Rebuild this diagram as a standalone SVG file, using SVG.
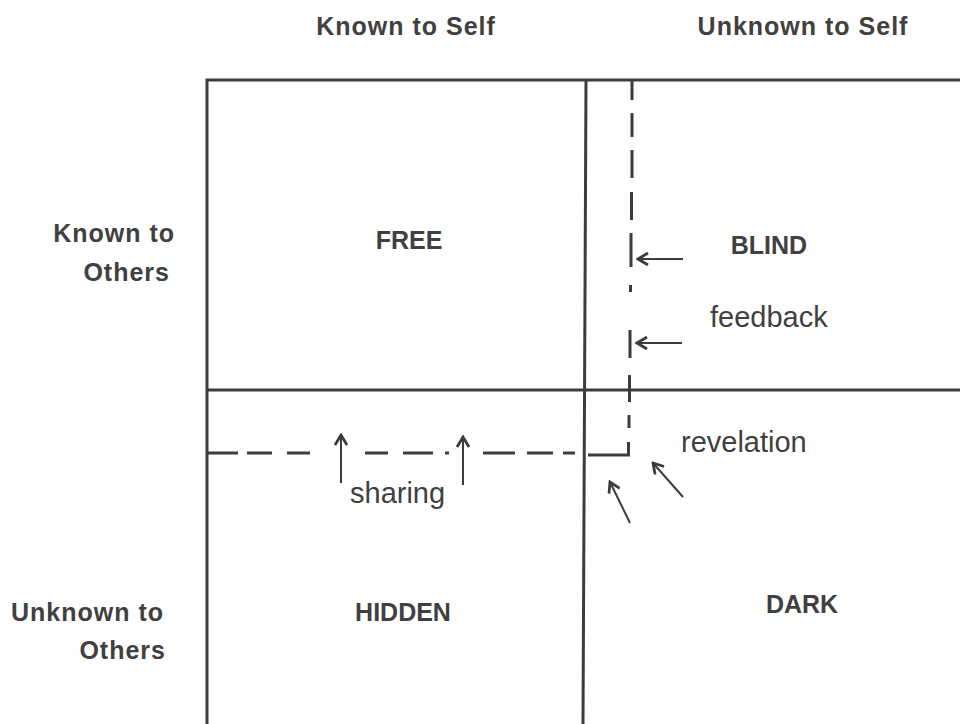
<svg xmlns="http://www.w3.org/2000/svg" width="960" height="724" viewBox="0 0 960 724">
  <style>
    .frame { stroke: #3c3c3c; stroke-width: 3; fill: none; }
    .dash { stroke: #3c3c3c; stroke-width: 3; fill: none; stroke-linecap: butt; }
    .arr { stroke: #3c3c3c; stroke-width: 2; fill: none; marker-end: url(#ah); }
    .hdr { font-family: "Liberation Sans", Arial, sans-serif; font-weight: bold; font-size: 25px; fill: #404040; letter-spacing: 1px; }
    .lbl { font-family: "Liberation Sans", Arial, sans-serif; font-weight: bold; font-size: 25px; fill: #404040; }
    .note { font-family: "Liberation Sans", Arial, sans-serif; font-size: 29px; fill: #404040; }
  </style>
  <defs>
    <marker id="ah" viewBox="0 0 14 14" refX="12" refY="7" markerWidth="14" markerHeight="14" markerUnits="userSpaceOnUse" orient="auto">
      <path d="M2,1 L12,7 L2,13" stroke="#3c3c3c" stroke-width="2.8" fill="none" stroke-linejoin="miter"/>
    </marker>
  </defs>
  <rect width="960" height="724" fill="#ffffff"/>

  <g id="grid">
    <path class="frame" d="M207,724 L207,80 L960,80"/>
    <path class="frame" d="M586,80 L583,724"/>
    <path class="frame" d="M207,390 L960,390"/>
  </g>

  <g id="headers">
    <text class="hdr" x="406" y="35" text-anchor="middle">Known to Self</text>
    <text class="hdr" x="803" y="35" text-anchor="middle">Unknown to Self</text>
    <text class="hdr" x="175" y="242" text-anchor="end">Known to</text>
    <text class="hdr" x="170" y="281" text-anchor="end">Others</text>
    <text class="hdr" x="164" y="621" text-anchor="end">Unknown to</text>
    <text class="hdr" x="166" y="659" text-anchor="end">Others</text>
  </g>

  <g id="free"><text class="lbl" x="409" y="249" text-anchor="middle">FREE</text></g>
  <g id="blind"><text class="lbl" x="769" y="254" text-anchor="middle">BLIND</text></g>
  <g id="hidden"><text class="lbl" x="403" y="621" text-anchor="middle">HIDDEN</text></g>
  <g id="dark"><text class="lbl" x="802" y="613" text-anchor="middle">DARK</text></g>

  <g id="boundary">
    <path class="dash" d="M632,80 V100 M632,113 V137 M632,150 V178 M631.5,192 V220 M631,233 V267 M630.5,285 V292 M630,330 V358 M629.5,375 V402 M629,415 V428 M628.5,442 V456"/>
    <path class="dash" d="M207,453 H238 M247,453 H272 M287,453 H310 M365,453 H388 M403,453 H433 M445,453 H449 M483,453 H515 M527,453 H553 M563,453 H575 M588,455 H630"/>
  </g>

  <g id="connectors">
    <line class="arr" x1="683" y1="259" x2="638" y2="259"/>
    <line class="arr" x1="682" y1="343" x2="637" y2="343"/>
    <line class="arr" x1="341" y1="483" x2="341" y2="435"/>
    <line class="arr" x1="463" y1="485" x2="463" y2="437"/>
    <line class="arr" x1="683" y1="497" x2="653" y2="463"/>
    <line class="arr" x1="630" y1="523" x2="610" y2="482"/>
  </g>

  <g id="notes">
    <text class="note" x="710" y="327" font-size="33">feedback</text>
    <text class="note" x="681" y="452">revelation</text>
    <text class="note" x="350" y="503">sharing</text>
  </g>
</svg>
